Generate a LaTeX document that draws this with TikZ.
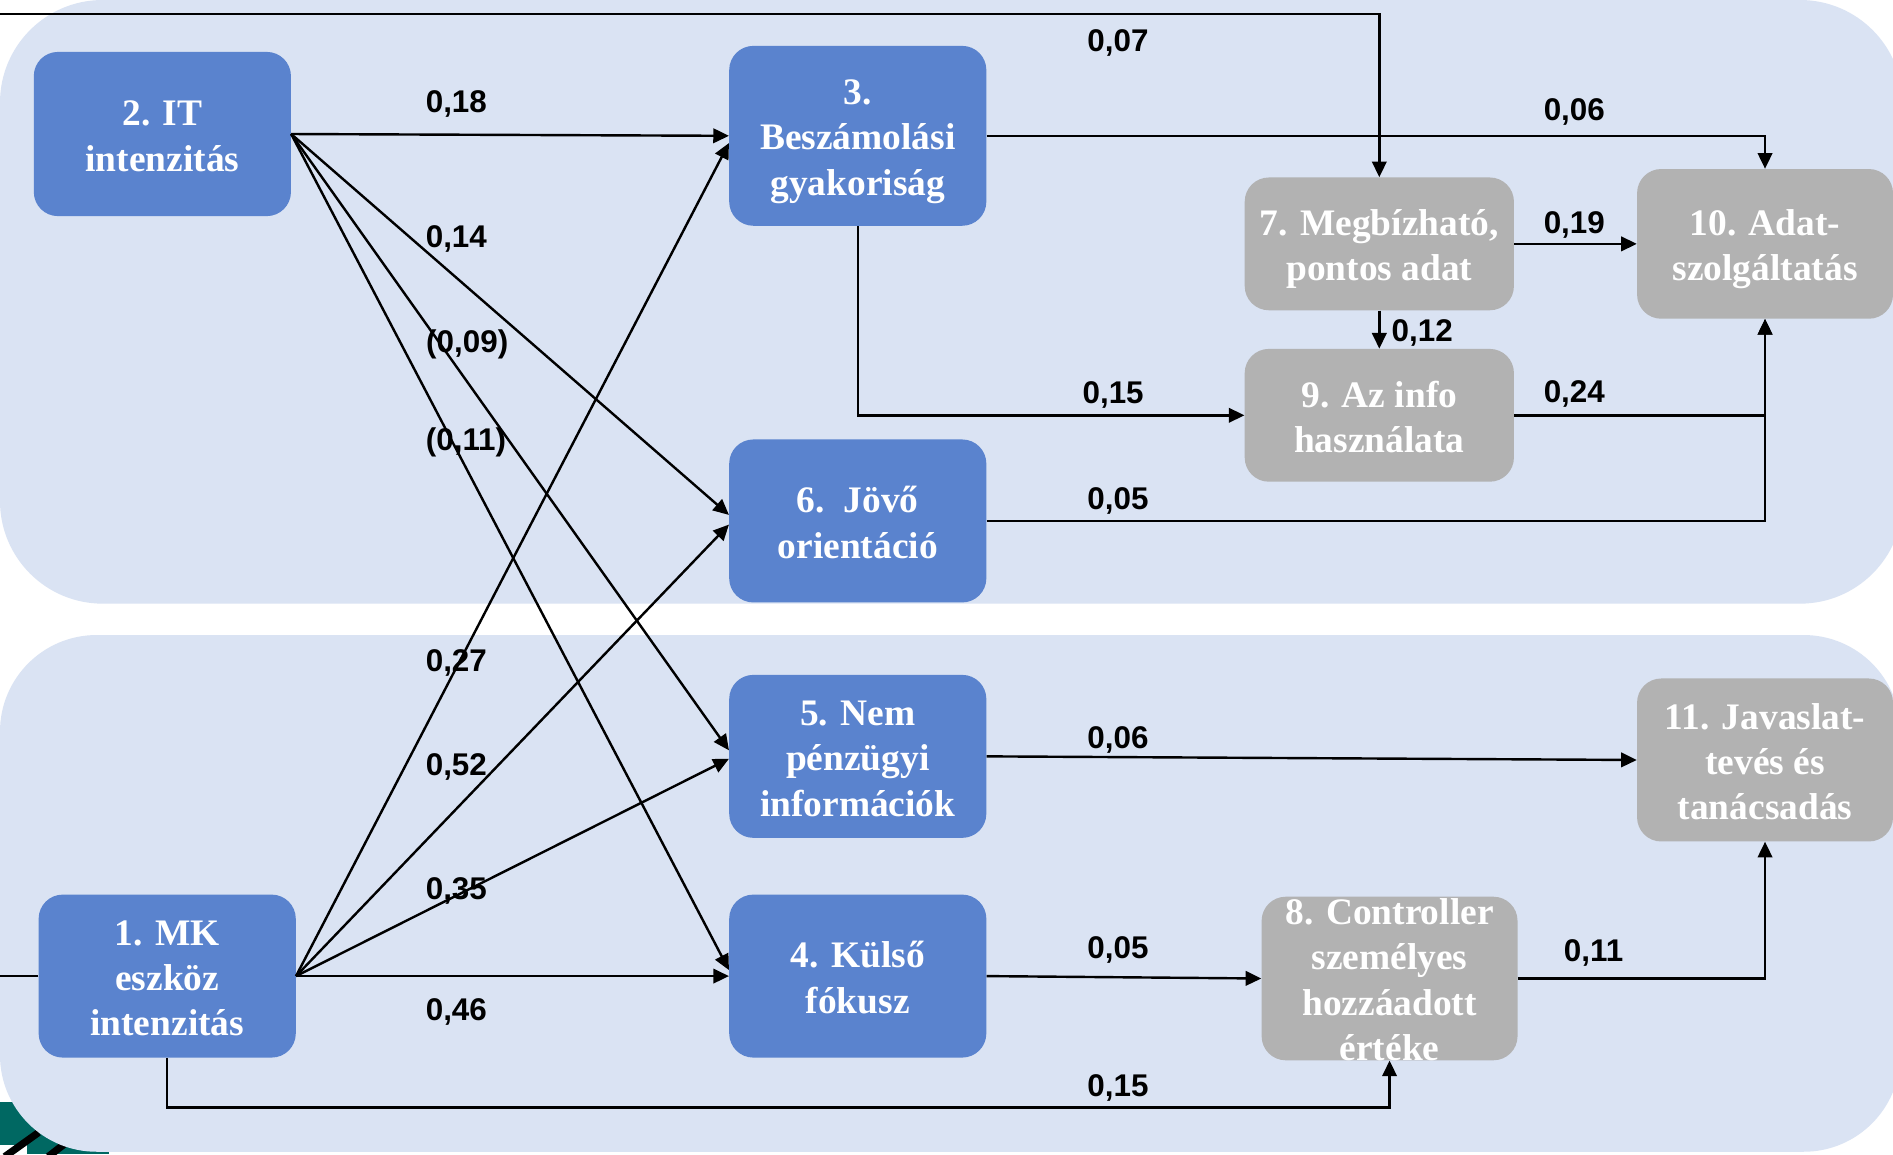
\documentclass[tikz,border=0pt]{standalone}
\usepackage{fontspec}
\setmainfont{Liberation Serif}
\newfontfamily\lblfont{Liberation Sans}
\usetikzlibrary{arrows.meta,calc}
\definecolor{panelbg}{RGB}{218,227,243}
\definecolor{boxblue}{RGB}{90,131,206}
\definecolor{boxgray}{RGB}{178,178,178}
\definecolor{decoteal}{RGB}{0,104,98}
\newcommand\bxstrut{\rule[-6pt]{0pt}{36pt}}
\begin{document}
\begin{tikzpicture}[x=1pt,y=1pt,
  bx/.style={rounded corners=20pt, inner sep=0pt, align=center, text=white,
    font=\fontsize{31}{37.5}\selectfont\bfseries},
  bluebox/.style={bx, fill=boxblue, minimum width=213pt},
  graybox/.style={bx, fill=boxgray},
  arr/.style={draw=black, line width=2pt, -{Triangle[length=13pt,width=12pt]}},
  lbl/.style={font=\lblfont\fontsize{26}{30}\selectfont\bfseries, anchor=base, inner sep=0pt}]
\useasboundingbox (0,0) rectangle (1568,-956);
\clip (0,0) rectangle (1568,-956);
\fill[white] (0,0) rectangle (1568,-956);
% corner decoration
\fill[decoteal] (0,-913) rectangle (90,-956);
\fill[white] (0,-948) rectangle (22,-956);
\draw[black, line width=6pt] (4,-958) -- (32,-938);
\draw[black, line width=6pt] (40,-958) -- (58,-944);
% panels
\fill[panelbg, rounded corners=85pt] (0,0) rectangle (1576,-500);
\fill[panelbg, rounded corners=80pt] (0,-526) rectangle (1574,-954);
% boxes
\node[bluebox, minimum height=136pt] (b2) at (134.5,-111) {\bxstrut 2. IT\\\bxstrut intenzitás};
\node[bluebox, minimum height=149pt] (b3) at (710.5,-112.5) {\bxstrut 3.\\\bxstrut Beszámolási\\\bxstrut gyakoriság};
\node[bluebox, minimum height=135pt] (b6) at (710.5,-431.5) {\bxstrut 6.\ \ Jövő\\\bxstrut orientáció};
\node[bluebox, minimum height=135pt] (b5) at (710.5,-626.5) {\bxstrut 5. Nem\\\bxstrut pénzügyi\\\bxstrut információk};
\node[bluebox, minimum height=135pt] (b4) at (710.5,-808.5) {\bxstrut 4. Külső\\\bxstrut fókusz};
\node[bluebox, minimum height=135pt] (b1) at (138.5,-808.5) {\bxstrut 1. MK\\\bxstrut eszköz\\\bxstrut intenzitás};
\node[graybox, minimum width=223pt, minimum height=110pt] (b7) at (1142.5,-202) {\bxstrut 7. Megbízható,\\\bxstrut pontos adat};
\node[graybox, minimum width=223pt, minimum height=110pt] (b9) at (1142.5,-344) {\bxstrut 9. Az info\\\bxstrut használata};
\node[graybox, minimum width=212pt, minimum height=124pt] (b10) at (1462,-202) {\bxstrut 10. Adat-\\\bxstrut szolgáltatás};
\node[graybox, minimum width=212pt, minimum height=135pt] (b11) at (1462,-629.5) {\bxstrut 11. Javaslat-\\\bxstrut tevés és\\\bxstrut tanácsadás};
\node[graybox, minimum width=212pt, minimum height=135pt, text height=135.5pt, text depth=-1pt] (b8) at (1151,-810.5) {8. Controller\\személyes\\hozzáadott\\értéke};
% connectors
\draw[arr] (b1.west) -- ++(-60,0) |- ($(b7.north)+(0,135)$) -- (b7.north);
\draw[arr] (b2.east) -- (b3.west);
\draw[arr] (b2.east) -- ($(b6.west)+(0,5)$);
\draw[arr] (b2.east) -- ($(b5.west)+(0,5)$);
\draw[arr] (b2.east) -- ($(b4.west)+(0,5)$);
\draw[arr] (b1.east) -- ($(b3.west)+(0,-6)$);
\draw[arr] (b1.east) -- ($(b6.west)+(0,-3)$);
\draw[arr] (b1.east) -- ($(b5.west)+(0,-2)$);
\draw[arr] (b1.east) -- (b4.west);
\draw[arr] (b3.east) -| (b10.north);
\draw[arr] (b3.south) |- (b9.west);
\draw[arr] (b7.east) -- (b10.west);
\draw[arr] (b7.south) -- (b9.north);
\draw[arr] (b9.east) -| (b10.south);
\draw[arr] (b6.east) -| (b10.south);
\draw[arr] (b5.east) -- (b11.west);
\draw[arr] (b4.east) -- (b8.west);
\draw[arr] (b8.east) -| (b11.south);
\draw[arr] (b1.south) |- ($(b8.south)+(0,-39)$) -- (b8.south);
% labels
\node[lbl] (l07) at (926,-43) {0,07};
\node[lbl] (l18) at (378,-93) {0,18};
\node[lbl] (l06a) at (1304,-100) {0,06};
\node[lbl] (l14) at (378,-205) {0,14};
\node[lbl] (l19) at (1304,-193) {0,19};
\node[lbl] (l12) at (1178,-283) {0,12};
\node[lbl] (l09) at (387,-292) {(0,09)};
\node[lbl] (l15a) at (922,-334) {0,15};
\node[lbl] (l24) at (1304,-333) {0,24};
\node[lbl] (l11) at (386,-373) {(0,11)};
\node[lbl] (l05a) at (926,-422) {0,05};
\node[lbl] (l27) at (378,-556) {0,27};
\node[lbl] (l52) at (378,-642) {0,52};
\node[lbl] (l06b) at (926,-620) {0,06};
\node[lbl] (l35) at (378,-745) {0,35};
\node[lbl] (l05b) at (926,-794) {0,05};
\node[lbl] (l11b) at (1320,-796) {0,11};
\node[lbl] (l46) at (378,-845) {0,46};
\node[lbl] (l15b) at (926,-908) {0,15};
\end{tikzpicture}
\end{document}
